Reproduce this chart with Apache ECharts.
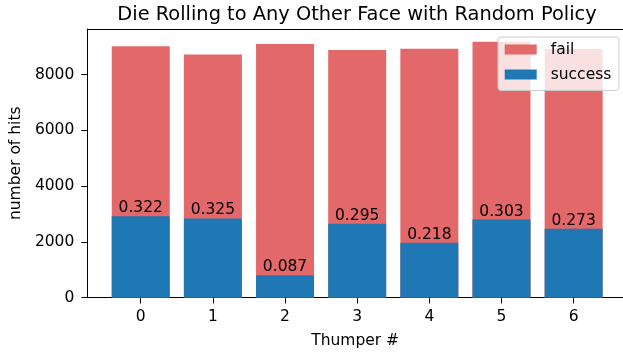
<!DOCTYPE html>
<html><head><meta charset="utf-8">
<script src="https://cdn.jsdelivr.net/npm/echarts@6/dist/echarts.min.js"></script>
<style>html,body{margin:0;padding:0;background:#fff}#c{width:623px;height:354px}</style>
</head><body><div id="c"></div>
<script>
var categories = [0, 1, 2, 3, 4, 5, 6];
var success = [2920, 2840, 800, 2650, 1970, 2800, 2470];
var fail = [6100, 5880, 8300, 6240, 6965, 6385, 6455];
var ratios = ['0.322', '0.325', '0.087', '0.295', '0.218', '0.303', '0.273'];
var yTicks = [0, 2000, 4000, 6000, 8000];

var FONT = 'DejaVu Sans';
var FS = 15.5;
var chart = echarts.init(document.getElementById('c'), null, {renderer: 'canvas'});
chart.setOption({
  animation: false,
  textStyle: {fontFamily: FONT},
  title: {
    text: 'Die Rolling to Any Other Face with Random Policy',
    left: 352, top: 0, textAlign: 'center',
    textStyle: {fontFamily: FONT, fontSize: 19.4, fontWeight: 'normal', color: '#000'}
  },
  legend: {
    orient: 'vertical', left: 498, top: 37,
    data: ['fail', 'success'],
    itemWidth: 32, itemHeight: 10, itemGap: 5,
    padding: [2.6, 7.6, 5.8, 6.7],
    backgroundColor: 'rgba(255,255,255,0.8)',
    borderColor: '#cccccc', borderWidth: 1, borderRadius: 3,
    textStyle: {fontFamily: FONT, fontSize: FS, color: '#000', lineHeight: 20, padding: [0, 0, 0, 9]},
    icon: 'rect'
  },
  grid: {left: 86, right: 0, top: 29, bottom: 56.5, show: false},
  xAxis: [{
    type: 'value', min: -0.74, max: 6.684,
    name: 'Thumper #', nameLocation: 'middle', nameGap: 35,
    nameTextStyle: {fontFamily: FONT, fontSize: FS, color: '#000'},
    axisLine: {show: true, onZero: false, lineStyle: {color: '#000', width: 1}},
    axisTick: {show: true, length: 6, lineStyle: {color: '#000'}, customValues: categories},
    axisLabel: {show: true, fontFamily: FONT, fontSize: FS, color: '#000', margin: 11, customValues: categories},
    splitLine: {show: false}
  }, {
    type: 'value', position: 'top', min: -0.74, max: 6.684,
    axisLine: {show: true, onZero: false, lineStyle: {color: '#000', width: 1}},
    axisTick: {show: false}, axisLabel: {show: false}, splitLine: {show: false}
  }],
  yAxis: {
    type: 'value', min: 0, max: 9640,
    name: 'number of hits', nameLocation: 'middle', nameGap: 61,
    nameTextStyle: {fontFamily: FONT, fontSize: FS, color: '#000'},
    axisLine: {show: true, onZero: false, lineStyle: {color: '#000', width: 1}},
    axisTick: {show: true, length: 6, lineStyle: {color: '#000'}, customValues: yTicks},
    axisLabel: {show: true, fontFamily: FONT, fontSize: FS, color: '#000', margin: 13, customValues: yTicks,
      formatter: function (v) { return String(v); }},
    splitLine: {show: false}
  },
  series: [
    {
      name: 'fail', type: 'bar', barWidth: 58, barGap: '-100%',
      itemStyle: {color: '#e26869'},
      data: categories.map(function (c, i) { return [c, success[i] + fail[i]]; })
    },
    {
      name: 'success', type: 'bar', barWidth: 58, barGap: '-100%',
      itemStyle: {color: '#1f77b4'},
      label: {
        show: true, position: 'top', distance: 0,
        fontFamily: FONT, fontSize: FS, color: '#000',
        formatter: function (p) { return ratios[p.dataIndex]; }
      },
      data: categories.map(function (c, i) { return [c, success[i]]; })
    }
  ]
});
</script></body></html>
